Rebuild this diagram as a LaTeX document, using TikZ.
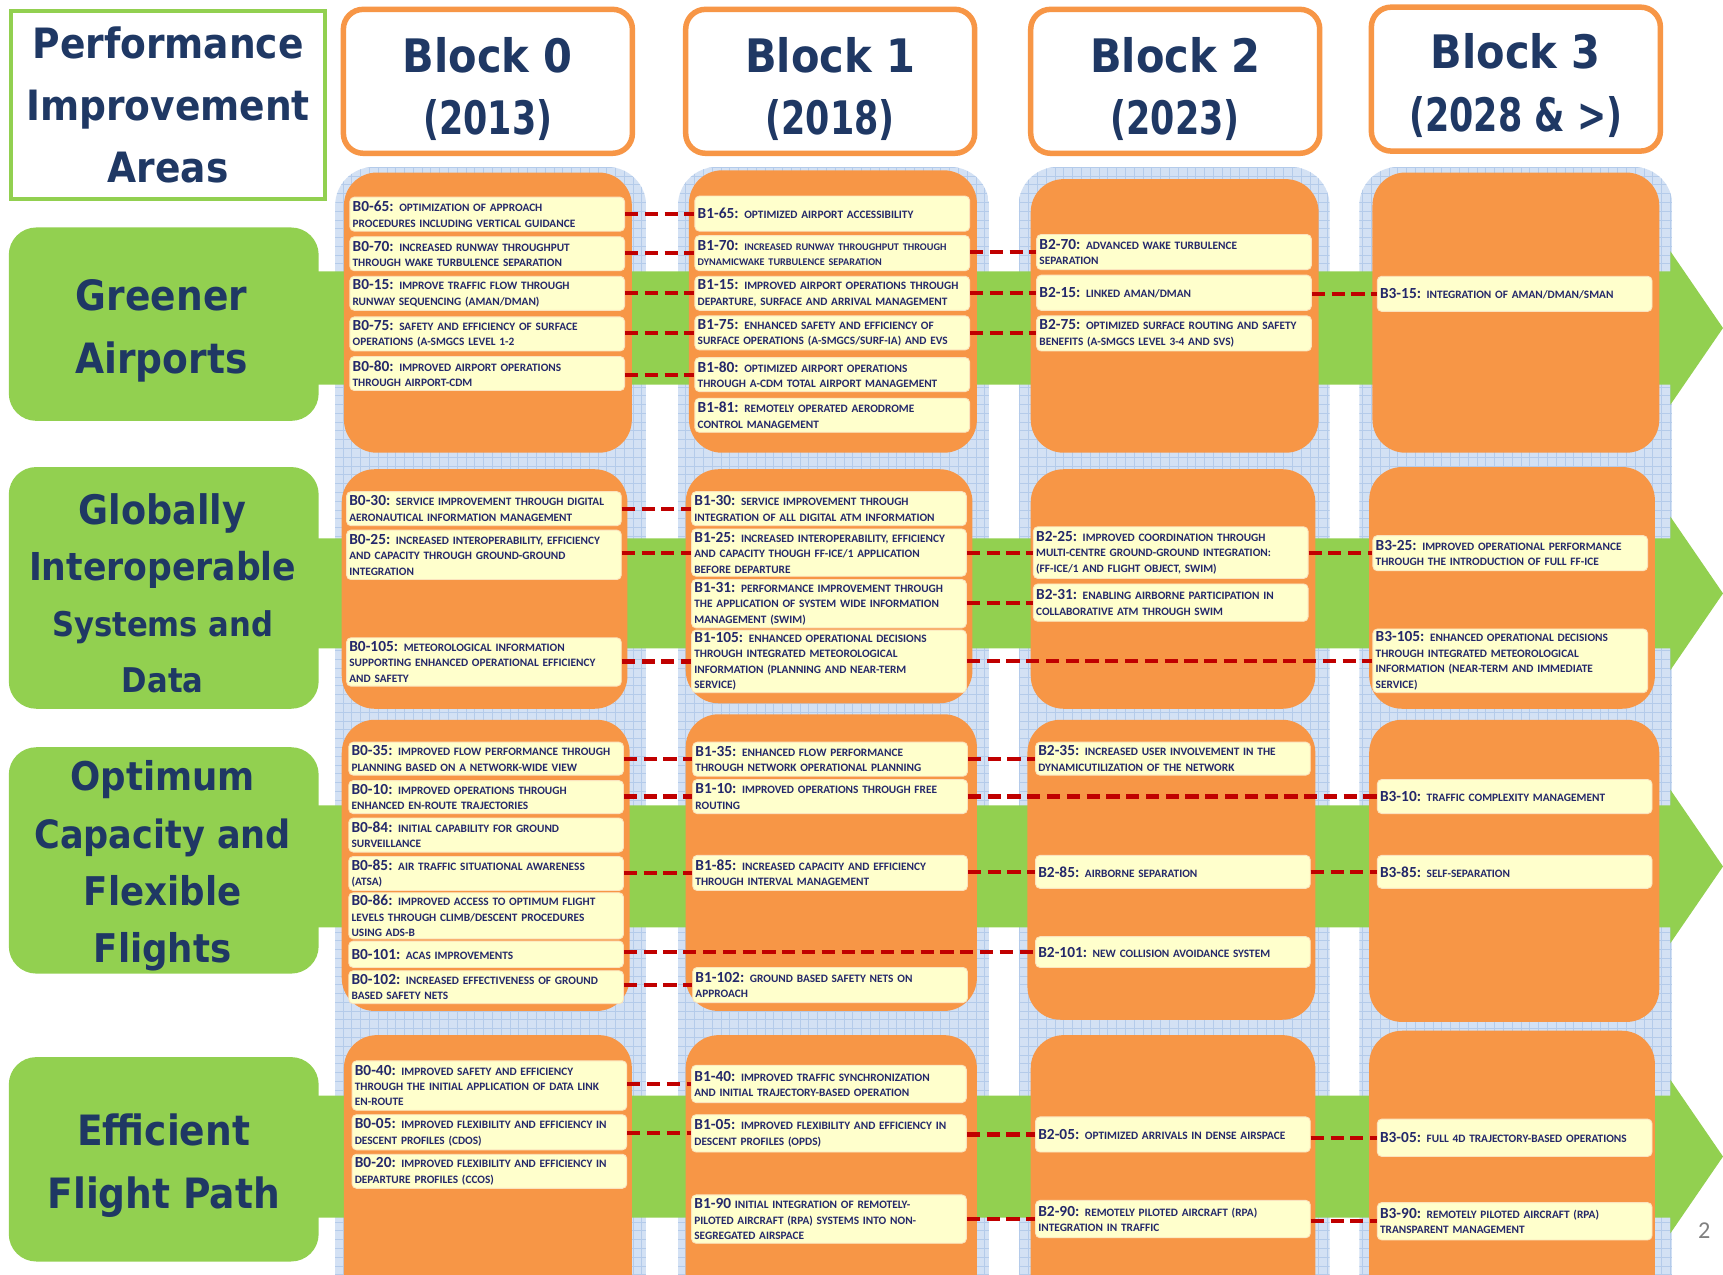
\documentclass[tikz,border=0pt]{standalone}
\usepackage{fontspec}
\setmainfont{Carlito}
\newfontfamily\headfont{DejaVu Sans Condensed}
\newfontfamily\yearfont{DejaVu Sans Condensed}[FakeStretch=0.84]
\definecolor{gr}{HTML}{92D050}
\definecolor{orng}{HTML}{F79646}
\definecolor{itmfill}{HTML}{FFFFCC}
\definecolor{itmborder}{HTML}{FBE3BE}
\definecolor{connred}{HTML}{C00000}
\definecolor{navy}{HTML}{1F3864}
\definecolor{itmtext}{HTML}{24286A}
\definecolor{colblue}{HTML}{D3E1F4}
\definecolor{gridblue}{HTML}{B4CBEA}
\newcommand\lb[1]{{\fontsize{14}{14}\selectfont #1}}
\newcommand\itm[5]{\node[itm, minimum height=#4pt] (#1) at (#2,#3) {#5};}
\newcommand\cn[2]{\draw[conn] (#1.east |- #2.west) -- (#2.west);}
\begin{document}
\begin{tikzpicture}[x=1pt,y=-1pt,
  itm/.style={draw=itmborder, line width=0.8pt, fill=itmfill, rounded corners=4pt,
    anchor=north west, text width=245pt, inner xsep=2.5pt, inner ysep=1.5pt, align=left,
    font=\fontsize{10.3}{14}\selectfont\bfseries, text=itmtext},
  conn/.style={draw=connred, line width=3.8pt, dash pattern=on 12pt off 6pt},
  rowbox/.style={fill=gr, rounded corners=25pt, minimum width=282pt},
  rowtxt/.style={align=center, text=navy, font=\headfont\bfseries\fontsize{38}{57}\selectfont},
  hdr/.style={draw=orng, line width=5pt, fill=white, rounded corners=18pt,
    minimum width=263pt, minimum height=131pt},
  hdrtxt/.style={align=center, text=navy, font=\headfont\bfseries\fontsize{42}{57}\selectfont},
  obox/.style={fill=orng, rounded corners=30pt}
]
\useasboundingbox (0,0) rectangle (1568,1160);
\clip (0,0) rectangle (1568,1160);
\fill[white] (0,0) rectangle (1568,1160);

% blue grid columns
\foreach \xa/\xb in {305/588,617/900,927/1210,1237/1522}{
  \begin{scope}
  \clip[rounded corners=35pt] (\xa,152) rectangle (\xb,1200);
  \fill[colblue] (\xa,152) rectangle (\xb,1200);
  \draw[gridblue, line width=0.5pt, step=8pt] (\xa,1200) grid (\xb,152);
  \end{scope}}

% green lanes
\foreach \ya/\yb in {247/350,490/590,733/844,997/1108}{
  \fill[gr] (280,\ya) -- (1520,\ya) -- (1520,{(\ya+\yb)/2-70}) -- (1568,{(\ya+\yb)/2})
    -- (1520,{(\ya+\yb)/2+70}) -- (1520,\yb) -- (280,\yb) -- cycle;}

% row labels
\node[rowbox, minimum height=176pt] (ga) at (149,295) {};
\node[rowtxt] (gat) at (147,301) {Greener\\Airports};
\node[rowbox, minimum height=220pt] (gi) at (149,535) {};
\node[rowtxt] (git) at (148,540)
  {{\fontsize{37}{50}\selectfont Globally}\\[-6pt]{\fontsize{35}{50}\selectfont Interoperable}\\[-6pt]
   {\fontsize{31}{50}\selectfont Systems and}\\[-6pt]{\fontsize{31}{50}\selectfont Data}};
\node[rowbox, minimum height=206pt] (oc) at (149,783) {};
\node[rowtxt] (oct) at (148,788)
  {{\fontsize{36}{50}\selectfont Optimum}\\[-5pt]{\fontsize{35.5}{50}\selectfont Capacity and}\\[-5pt]
   {\fontsize{36}{50}\selectfont Flexible}\\[-5pt]{\fontsize{36}{50}\selectfont Flights}};
\node[rowbox, minimum height=186pt] (ef) at (149,1055) {};
\node[rowtxt] (eft) at (149,1061) {Efficient\\Flight Path};

% orange block boxes
\fill[obox] (313,157) rectangle (575,412);
\fill[obox] (311,427) rectangle (571,645);
\fill[obox] (311,655) rectangle (573,920);
\fill[obox] (313,942) rectangle (575,1190);
\fill[obox] (627,155) rectangle (889,412);
\fill[obox] (624,427) rectangle (885,640);
\fill[obox] (624,650) rectangle (889,920);
\fill[obox] (624,942) rectangle (889,1190);
\fill[obox] (938,163) rectangle (1200,412);
\fill[obox] (938,427) rectangle (1197,645);
\fill[obox] (935,655) rectangle (1197,928);
\fill[obox] (938,942) rectangle (1197,1190);
\fill[obox] (1249,157) rectangle (1510,412);
\fill[obox] (1246,425) rectangle (1506,645);
\fill[obox] (1246,655) rectangle (1510,930);
\fill[obox] (1246,938) rectangle (1506,1190);

% headers
\node[draw=gr, line width=4pt, fill=white, minimum width=286pt, minimum height=171pt,
  align=center, text=navy, font=\headfont\bfseries\fontsize{38}{56.5}\selectfont]
  (pia) at (153,95.5) {Performance\\Improvement\\Areas};
\node[hdr] (h0) at (444,74) {};
\node[hdr] (h1) at (755.5,74) {};
\node[hdr] (h2) at (1069.5,74) {};
\node[hdr] (h3) at (1379.5,72) {};
\node[hdrtxt] (t0) at (444,81) {Block 0\\{\yearfont\bfseries(2013)}};
\node[hdrtxt] (t1) at (755.5,81) {Block 1\\{\yearfont\bfseries(2018)}};
\node[hdrtxt] (t2) at (1069.5,81) {Block 2\\{\yearfont\bfseries(2023)}};
\node[hdrtxt] (t3) at (1379.5,78) {Block 3\\{\yearfont\bfseries(2028 \& >)}};

% ---- Row 1: Greener Airports
\itm{b065}{318}{179}{31}{\lb{B0-65:} OPTIMIZATION OF APPROACH\\PROCEDURES INCLUDING VERTICAL GUIDANCE}
\itm{b070}{318}{215}{31}{\lb{B0-70:} INCREASED RUNWAY THROUGHPUT\\THROUGH WAKE TURBULENCE SEPARATION}
\itm{b015}{318}{251}{31}{\lb{B0-15:} IMPROVE TRAFFIC FLOW THROUGH\\RUNWAY SEQUENCING (AMAN/DMAN)}
\itm{b075}{318}{288}{31}{\lb{B0-75:} SAFETY AND EFFICIENCY OF SURFACE\\OPERATIONS (A-SMGCS LEVEL 1-2}
\itm{b080}{318}{324}{31}{\lb{B0-80:} IMPROVED AIRPORT OPERATIONS\\THROUGH AIRPORT-CDM}
\itm{b165}{632}{178}{32}{\lb{B1-65:} OPTIMIZED AIRPORT ACCESSIBILITY}
\itm{b170}{632}{214}{32}{\fontsize{9.3}{14}\selectfont\lb{B1-70:} INCREASED RUNWAY THROUGHPUT THROUGH\\DYNAMICWAKE TURBULENCE SEPARATION}
\itm{b115}{632}{251}{31}{\lb{B1-15:} IMPROVED AIRPORT OPERATIONS THROUGH\\DEPARTURE, SURFACE AND ARRIVAL MANAGEMENT}
\itm{b175}{632}{287}{31}{\lb{B1-75:} ENHANCED SAFETY AND EFFICIENCY OF\\SURFACE OPERATIONS (A-SMGCS/SURF-IA) AND EVS}
\itm{b180}{632}{325}{31}{\lb{B1-80:} OPTIMIZED AIRPORT OPERATIONS\\THROUGH A-CDM TOTAL AIRPORT MANAGEMENT}
\itm{b181}{632}{362}{31}{\lb{B1-81:} REMOTELY OPERATED AERODROME\\CONTROL MANAGEMENT}
\itm{b270}{943}{213}{32}{\lb{B2-70:} ADVANCED WAKE TURBULENCE\\SEPARATION}
\itm{b215}{943}{250}{32}{\lb{B2-15:} LINKED AMAN/DMAN}
\itm{b275}{943}{287}{32}{\lb{B2-75:} OPTIMIZED SURFACE ROUTING AND SAFETY\\BENEFITS (A-SMGCS LEVEL 3-4 AND SVS)}
\itm{b315}{1253}{251}{32}{\lb{B3-15:} INTEGRATION OF AMAN/DMAN/SMAN}

% ---- Row 2: Globally Interoperable Systems and Data
\itm{b030}{315}{447}{31}{\lb{B0-30:} SERVICE IMPROVEMENT THROUGH DIGITAL\\AERONAUTICAL INFORMATION MANAGEMENT}
\itm{b025}{315}{482}{45}{\lb{B0-25:} INCREASED INTEROPERABILITY, EFFICIENCY\\AND CAPACITY THROUGH GROUND-GROUND\\INTEGRATION}
\itm{b0105}{315}{580}{44}{\lb{B0-105:} METEOROLOGICAL INFORMATION\\SUPPORTING ENHANCED OPERATIONAL EFFICIENCY\\AND SAFETY}
\itm{b130}{629}{447}{31}{\lb{B1-30:} SERVICE IMPROVEMENT THROUGH\\INTEGRATION OF ALL DIGITAL ATM INFORMATION}
\itm{b125}{629}{481}{43}{\lb{B1-25:} INCREASED INTEROPERABILITY, EFFICIENCY\\AND CAPACITY THOUGH FF-ICE/1 APPLICATION\\BEFORE DEPARTURE}
\itm{b131}{629}{527}{44}{\lb{B1-31:} PERFORMANCE IMPROVEMENT THROUGH\\THE APPLICATION OF SYSTEM WIDE INFORMATION\\MANAGEMENT (SWIM)}
\itm{b1105}{629}{573}{57}{\lb{B1-105:} ENHANCED OPERATIONAL DECISIONS\\THROUGH INTEGRATED METEOROLOGICAL\\INFORMATION (PLANNING AND NEAR-TERM\\SERVICE)}
\itm{b225}{940}{479}{47}{\lb{B2-25:} IMPROVED COORDINATION THROUGH\\MULTI-CENTRE GROUND-GROUND INTEGRATION:\\(FF-ICE/1 AND FLIGHT OBJECT, SWIM)}
\itm{b231}{940}{531}{34}{\lb{B2-31:} ENABLING AIRBORNE PARTICIPATION IN\\COLLABORATIVE ATM THROUGH SWIM}
\itm{b325}{1249}{487}{32}{\lb{B3-25:} IMPROVED OPERATIONAL PERFORMANCE\\THROUGH THE INTRODUCTION OF FULL FF-ICE}
\itm{b3105}{1249}{572}{58}{\lb{B3-105:} ENHANCED OPERATIONAL DECISIONS\\THROUGH INTEGRATED METEOROLOGICAL\\INFORMATION (NEAR-TERM AND IMMEDIATE\\SERVICE)}

% ---- Row 3: Optimum Capacity and Flexible Flights
\itm{b035}{317}{675}{30}{\lb{B0-35:} IMPROVED FLOW PERFORMANCE THROUGH\\PLANNING BASED ON A NETWORK-WIDE VIEW}
\itm{b010}{317}{710}{30}{\lb{B0-10:} IMPROVED OPERATIONS THROUGH\\ENHANCED EN-ROUTE TRAJECTORIES}
\itm{b084}{317}{744}{31}{\lb{B0-84:} INITIAL CAPABILITY FOR GROUND\\SURVEILLANCE}
\itm{b085}{317}{779}{31}{\lb{B0-85:} AIR TRAFFIC SITUATIONAL AWARENESS\\(ATSA)}
\itm{b086}{317}{812}{42}{\lb{B0-86:} IMPROVED ACCESS TO OPTIMUM FLIGHT\\LEVELS THROUGH CLIMB/DESCENT PROCEDURES\\USING ADS-B}
\itm{b0101}{317}{856}{24}{\lb{B0-101:} ACAS IMPROVEMENTS}
\itm{b0102}{317}{883}{30}{\lb{B0-102:} INCREASED EFFECTIVENESS OF GROUND\\BASED SAFETY NETS}
\itm{b135}{630}{675}{31}{\lb{B1-35:} ENHANCED FLOW PERFORMANCE\\THROUGH NETWORK OPERATIONAL PLANNING}
\itm{b110}{630}{709}{31}{\lb{B1-10:} IMPROVED OPERATIONS THROUGH FREE\\ROUTING}
\itm{b185}{630}{778}{32}{\lb{B1-85:} INCREASED CAPACITY AND EFFICIENCY\\THROUGH INTERVAL MANAGEMENT}
\itm{b1102}{630}{880}{32}{\lb{B1-102:} GROUND BASED SAFETY NETS ON\\APPROACH}
\itm{b235}{942}{675}{30}{\lb{B2-35:} INCREASED USER INVOLVEMENT IN THE\\DYNAMICUTILIZATION OF THE NETWORK}
\itm{b285}{942}{778}{30}{\lb{B2-85:} AIRBORNE SEPARATION}
\itm{b2101}{942}{852}{28}{\lb{B2-101:} NEW COLLISION AVOIDANCE SYSTEM}
\itm{b310}{1253}{709}{31}{\lb{B3-10:} TRAFFIC COMPLEXITY MANAGEMENT}
\itm{b385}{1253}{778}{30}{\lb{B3-85:} SELF-SEPARATION}

% ---- Row 4: Efficient Flight Path
\itm{b040}{320}{965}{45}{\lb{B0-40:} IMPROVED SAFETY AND EFFICIENCY\\THROUGH THE INITIAL APPLICATION OF DATA LINK\\EN-ROUTE}
\itm{b005}{320}{1014}{32}{\lb{B0-05:} IMPROVED FLEXIBILITY AND EFFICIENCY IN\\DESCENT PROFILES (CDOS)}
\itm{b020}{320}{1050}{31}{\lb{B0-20:} IMPROVED FLEXIBILITY AND EFFICIENCY IN\\DEPARTURE PROFILES (CCOS)}
\itm{b140}{629}{969}{34}{\lb{B1-40:} IMPROVED TRAFFIC SYNCHRONIZATION\\AND INITIAL TRAJECTORY-BASED OPERATION}
\itm{b105}{629}{1014}{34}{\lb{B1-05:} IMPROVED FLEXIBILITY AND EFFICIENCY IN\\DESCENT PROFILES (OPDS)}
\itm{b190}{629}{1087}{44}{\lb{B1-90} INITIAL INTEGRATION OF REMOTELY-\\PILOTED AIRCRAFT (RPA) SYSTEMS INTO NON-\\SEGREGATED AIRSPACE}
\itm{b205}{942}{1016}{32}{\lb{B2-05:} OPTIMIZED ARRIVALS IN DENSE AIRSPACE}
\itm{b290}{942}{1092}{34}{\lb{B2-90:} REMOTELY PILOTED AIRCRAFT (RPA)\\INTEGRATION IN TRAFFIC}
\itm{b305}{1253}{1018}{34}{\lb{B3-05:} FULL 4D TRAJECTORY-BASED OPERATIONS}
\itm{b390}{1253}{1094}{34}{\lb{B3-90:} REMOTELY PILOTED AIRCRAFT (RPA)\\TRANSPARENT MANAGEMENT}

% ---- connectors
\cn{b065}{b165}\cn{b070}{b170}\cn{b015}{b115}\cn{b075}{b175}\cn{b080}{b180}
\cn{b170}{b270}\cn{b115}{b215}\cn{b175}{b275}\cn{b215}{b315}
\cn{b030}{b130}\cn{b025}{b125}\cn{b0105}{b1105}\cn{b125}{b225}\cn{b131}{b231}
\cn{b1105}{b3105}\cn{b225}{b325}
\cn{b035}{b135}\cn{b010}{b110}\cn{b085}{b185}\cn{b0101}{b2101}\cn{b0102}{b1102}
\cn{b135}{b235}\cn{b110}{b310}\cn{b185}{b285}\cn{b285}{b385}
\cn{b040}{b140}\cn{b005}{b105}\cn{b105}{b205}\cn{b190}{b290}\cn{b205}{b305}\cn{b290}{b390}

\node[text=gray, font=\fontsize{22}{24}\selectfont] (pg) at (1551,1120) {2};
\end{tikzpicture}
\end{document}
